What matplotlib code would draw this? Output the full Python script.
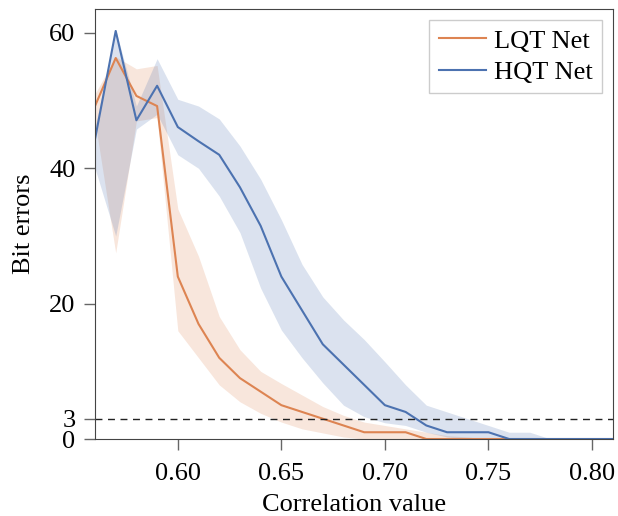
import numpy as np
import matplotlib
matplotlib.use("Agg")
import matplotlib.pyplot as plt

plt.rcParams["font.family"] = ["Liberation Serif", "DejaVu Serif"]

corr = [0.56, 0.57, 0.58, 0.59, 0.60, 0.61, 0.62, 0.63, 0.64, 0.65, 0.66, 0.67, 0.68,
        0.69, 0.70, 0.71, 0.72, 0.73, 0.74, 0.75, 0.76, 0.77, 0.78, 0.79, 0.80, 0.81]

lqt_mean = [49.2, 56.3, 50.7, 49.2, 24, 17, 12, 9, 7, 5, 4, 3, 2,
            1, 1, 1, 0, 0, 0, 0, 0, 0, 0, 0, 0, 0]
lqt_low = [47, 27.5, 47, 47.5, 16, 12, 8, 5.5, 3.8, 2.5, 1.5, 0.9, 0.3,
           0, 0, 0, 0, 0, 0, 0, 0, 0, 0, 0, 0, 0]
lqt_high = [51, 56.5, 54.7, 55.2, 34, 27, 18.1, 13.2, 10, 8.2, 6.5, 4.8, 3.5,
            2.5, 2, 1.5, 1, 0.5, 0.3, 0, 0, 0, 0, 0, 0, 0]

hqt_mean = [44.3, 60.3, 47.1, 52.2, 46.1, 44, 42, 37.2, 31.5, 24, 19, 14, 11,
            8, 5, 4, 2, 1, 1, 1, 0, 0, 0, 0, 0, 0]
hqt_low = [40, 30, 45.8, 48, 42, 40, 35.9, 30.5, 22.3, 16.1, 12, 8.3, 5,
           3.3, 2.4, 2, 1, 0.3, 0, 0, 0, 0, 0, 0, 0, 0]
hqt_high = [46, 60.5, 49.2, 56.2, 50.2, 49.2, 47.3, 43.3, 38.4, 32.4, 25.8, 21, 17.6,
            14.7, 11.4, 8, 5, 4, 3, 2, 1, 1, 0, 0, 0, 0]

c_lqt = "#DD8452"
c_hqt = "#4C72B0"

fig = plt.figure(figsize=(6.18, 5.16), dpi=100)
ax = fig.add_axes([0.1537, 0.1492, 0.8377, 0.8328])

ax.fill_between(corr, lqt_low, lqt_high, color=c_lqt, alpha=0.2, linewidth=0)
ax.fill_between(corr, hqt_low, hqt_high, color=c_hqt, alpha=0.2, linewidth=0)
ax.plot(corr, lqt_mean, color=c_lqt, lw=1.5, label="LQT Net")
ax.plot(corr, hqt_mean, color=c_hqt, lw=1.5, label="HQT Net")
ax.axhline(3, color="#222222", ls=(0, (5, 4)), lw=1)

ax.set_xlim(0.56, 0.81)
ax.set_ylim(0, 63.5)
ax.set_xticks([0.60, 0.65, 0.70, 0.75, 0.80])
ax.set_xticklabels(["0.60", "0.65", "0.70", "0.75", "0.80"])
ax.set_yticks([0, 3, 20, 40, 60])
ax.tick_params(labelsize=19, color="#666666", length=8, width=1)
ax.tick_params(axis="x", pad=9)
ax.tick_params(axis="y", pad=6)
for s in ax.spines.values():
    s.set_color("#444444")

ax.set_xlabel("Correlation value", fontsize=19, labelpad=7)
ax.set_ylabel("Bit errors", fontsize=19, labelpad=10)

leg = ax.legend(loc="upper right", fontsize=19, fancybox=False, framealpha=1,
                edgecolor="#cccccc", borderaxespad=0.4, handlelength=1.8,
                handletextpad=0.3, labelspacing=0.3, borderpad=0.35)
leg.get_frame().set_linewidth(1)

fig.savefig("out.png", dpi=100)
